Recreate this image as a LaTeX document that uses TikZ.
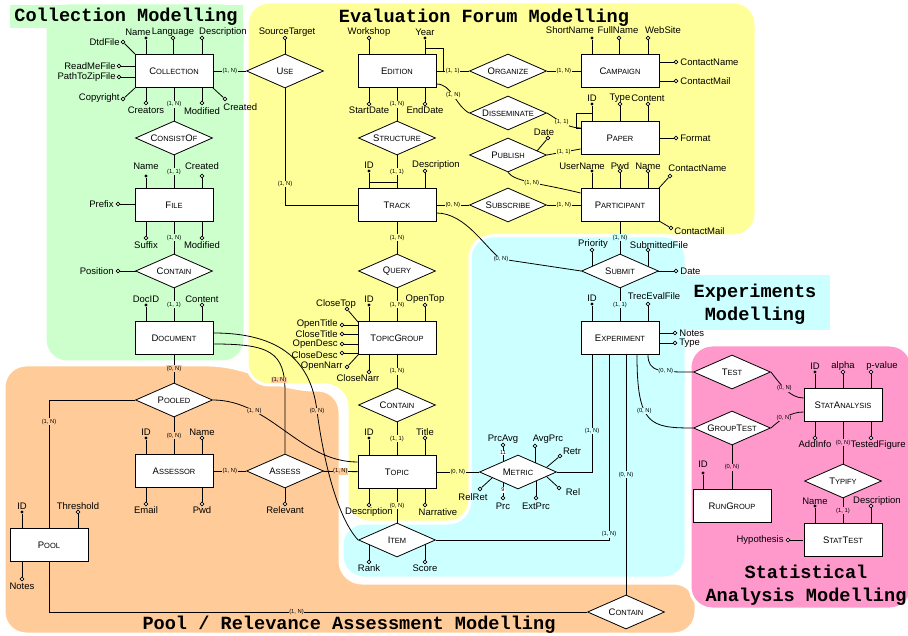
\documentclass[tikz,border=0pt]{standalone}
\usepackage{fontspec}
\setmainfont{Liberation Sans}
\newfontfamily\titlemono{Liberation Mono}
\usetikzlibrary{shapes.geometric}
\definecolor{cgreen}{HTML}{CCFFCC}
\definecolor{cyel}{HTML}{FFFF99}
\definecolor{ccyan}{HTML}{CCFFFF}
\definecolor{corange}{HTML}{FFCC99}
\definecolor{cpink}{HTML}{FF99CC}
\newcommand\smc[2]{#1{\fontsize{7.5}{8}\selectfont#2}}

\begin{document}
\begin{tikzpicture}[x=1pt,y=-1pt,line width=0.8pt,
  ent/.style={draw,fill=white,minimum width=78pt,minimum height=33pt,font=\fontsize{9.5}{10}\selectfont},
  rel/.style={diamond,draw,fill=white,aspect=2.3,inner sep=0pt,minimum width=77pt,minimum height=34pt,font=\fontsize{9.5}{10}\selectfont},
  key/.style={circle,fill=black,inner sep=0pt,minimum size=3.4pt},
  att/.style={circle,draw,fill=white,line width=0.7pt,inner sep=0pt,minimum size=3.6pt},
  lbl/.style={inner sep=0pt,font=\fontsize{9.5}{10}\selectfont},
  card/.style={inner sep=0.6pt,font=\fontsize{5.8}{6}\selectfont},
  cg/.style={card,fill=cgreen}, cy/.style={card,fill=cyel}, cc/.style={card,fill=ccyan},
  co/.style={card,fill=corange}, cp/.style={card,fill=cpink},
  ftitle/.style={font=\titlemono\bfseries\fontsize{18.6}{23}\selectfont,inner sep=0pt,align=center},
  bg/.style={draw=white,line width=3pt,rounded corners=22pt}]
\useasboundingbox (0,0) rectangle (908,636);

% areas
\path[bg,fill=corange] (4,365) -- (232,365) -- (292,390) -- (340,390) -- (340,583) -- (696,583) -- (696,634) -- (4,634) -- cycle;
\path[bg,fill=cyel] (247,2) -- (756,2) -- (756,236) -- (470,236) -- (470,522) -- (347,522) -- (347,385) -- (247,385) -- cycle;
\path[bg,fill=cgreen] (45,3) rectangle (245,362);
\path[bg,fill=ccyan] (470,236) -- (686,236) -- (686,578) -- (342,578) -- (342,523) -- (470,523) -- cycle;
\path[bg,fill=cpink] (690,345) rectangle (912,609);
\fill[cgreen] (10,5) rectangle (243,28);
\fill[ccyan] (683,275) rectangle (830,330);

\node[ftitle] (t-coll) at (126,17) {Collection Modelling};
\node[ftitle] (t-eval) at (484,18) {Evaluation Forum Modelling};
\node[ftitle] (t-exp) at (755,304) {Experiments\\Modelling};
\node[ftitle] (t-stat) at (806,585) {Statistical\\Analysis Modelling};
\node[ftitle] (t-pool) at (349,625) {Pool / Relevance Assessment Modelling};

% entities
\node[ent] (coll) at (174,71) {\smc{C}{OLLECTION}};
\node[ent] (file) at (174,205) {\smc{F}{ILE}};
\node[ent] (doc) at (174,338) {\smc{D}{OCUMENT}};
\node[ent] (assessor) at (174,471) {\smc{A}{SSESSOR}};
\node[ent] (pool) at (49,545) {\smc{P}{OOL}};
\node[ent] (edition) at (397,71) {\smc{E}{DITION}};
\node[ent] (campaign) at (620,71) {\smc{C}{AMPAIGN}};
\node[ent] (paper) at (620,138) {\smc{P}{APER}};
\node[ent] (track) at (397,205) {\smc{T}{RACK}};
\node[ent] (participant) at (620,205) {\smc{P}{ARTICIPANT}};
\node[ent] (tgroup) at (397,338) {\smc{T}{OPIC}\smc{G}{ROUP}};
\node[ent] (topic) at (397,472) {\smc{T}{OPIC}};
\node[ent] (exper) at (620,338) {\smc{E}{XPERIMENT}};
\node[ent] (stat) at (843,405) {\smc{S}{TAT}\smc{A}{NALYSIS}};
\node[ent] (rungroup) at (732,506) {\smc{R}{UN}\smc{G}{ROUP}};
\node[ent] (stattest) at (843,540) {\smc{S}{TAT}\smc{T}{EST}};

% relationships
\node[rel] (use) at (285,71) {\smc{U}{SE}};
\node[rel] (consist) at (174,138) {\smc{C}{ONSIST}\smc{O}{F}};
\node[rel] (containA) at (174,271) {\smc{C}{ONTAIN}};
\node[rel] (pooled) at (174,400) {\smc{P}{OOLED}};
\node[rel] (assess) at (285,471) {\smc{A}{SSESS}};
\node[rel] (organize) at (508,71) {\smc{O}{RGANIZE}};
\node[rel] (dissem) at (508,113) {\smc{D}{ISSEMINATE}};
\node[rel] (publish) at (508,155) {\smc{P}{UBLISH}};
\node[rel] (struct) at (397,138) {\smc{S}{TRUCTURE}};
\node[rel] (subscribe) at (508,205) {\smc{S}{UBSCRIBE}};
\node[rel] (query) at (397,271) {\smc{Q}{UERY}};
\node[rel] (containB) at (397,405) {\smc{C}{ONTAIN}};
\node[rel] (item) at (397,540) {\smc{I}{TEM}};
\node[rel] (metric) at (518,472) {\smc{M}{ETRIC}};
\node[rel] (submit) at (620,271) {\smc{S}{UBMIT}};
\node[rel] (test) at (732,372) {\smc{T}{EST}};
\node[rel] (gtest) at (732,428) {\smc{G}{ROUP}\smc{T}{EST}};
\node[rel] (typify) at (843,481) {\smc{T}{YPIFY}};
\node[rel] (containC) at (626,612) {\smc{C}{ONTAIN}};

% straight connectors
\draw (coll) -- (use) node[cg,midway] {(1, N)};
\draw (coll) -- (consist) node[cg,midway] {(1, N)};
\draw (consist) -- (file) node[cg,midway] {(1, 1)};
\draw (file) -- (containA) node[cg,midway] {(1, N)};
\draw (containA) -- (doc) node[cg,midway] {(1, 1)};
\draw (doc) -- (pooled) node[co,midway] {(0, N)};
\draw (pooled) -- (assessor) node[co,midway] {(0, N)};
\draw (assessor) -- (assess) node[co,midway] {(1, N)};
\draw (assess) -- (topic) node[co,midway] {(1, N)};
\draw (pooled.west) -| (pool.north) node[co,pos=0.585] {(1, N)};
\draw (pool.south) |- (containC.west) node[co,pos=0.73] {(1, N)};
\draw (use.south) |- (track.west) node[cy,pos=0.41] {(1, N)};
\draw (edition) -- (organize) node[cy,midway] {(1, 1)};
\draw (organize) -- (campaign) node[cy,midway] {(1, N)};
\draw (edition) -- (struct) node[cy,midway] {(1, N)};
\draw (struct) -- (track) node[cy,midway] {(1, 1)};
\draw (track) -- (subscribe) node[cy,midway] {(0, N)};
\draw (subscribe) -- (participant) node[cy,midway] {(1, N)};
\draw (track) -- (query) node[cy,midway] {(1, N)};
\draw (query) -- (tgroup) node[cy,midway] {(1, N)};
\draw (tgroup) -- (containB) node[cy,midway] {(1, N)};
\draw (containB) -- (topic) node[cy,midway] {(1, 1)};
\draw (topic) -- (item) node[cy,midway] {(0, N)};
\draw (topic) -- (metric) node[cy,midway] {(0, N)};
\draw (participant) -- (submit) node[cc,midway] {(1, N)};
\draw (submit) -- (exper) node[cc,midway] {(1, 1)};
\draw (metric.east) -| ([xshift=-28pt]exper.south) node[cc,pos=0.675] {(1, N)};
\draw (item.east) -| ([xshift=-11pt]exper.south) node[cc,pos=0.515] {(1, N)};
\draw ([xshift=6pt]exper.south) -- (containC.north) node[cc,midway] {(0, N)};
\draw (gtest) -- (rungroup) node[cp,midway] {(0, N)};
\draw (stat) -- (typify) node[cp,midway] {(0, N)};
\draw (typify) -- (stattest) node[cp,midway] {(1, 1)};
\draw (publish.east) -- ([yshift=-11pt]paper.west) node[cy,midway] {(1, 1)};

% curved connectors
\coordinate (tsb) at (501,259);
\draw ([yshift=-8pt]track.east) .. controls (466,213) and (486,249) .. (tsb) -- (submit.west);
\node[cc] (c-tsb) at (tsb) {(0, N)};
\draw ([yshift=-13pt]edition.east) .. controls (452,84) and (455,105) .. (dissem.west) node[cy,pos=0.5] {(1, N)};
\draw (dissem.east) .. controls (556,118) and (566,128) .. ([yshift=10pt]paper.west) node[cy,pos=0.5] {(1, 1)};
\draw (publish.south) .. controls (515,182) and (540,183) .. ([yshift=12pt]participant.west) node[cy,pos=0.5] {(1, N)};
\draw (pooled.east) .. controls (270,400) and (300,462) .. ([yshift=10pt]topic.west) node[co,pos=0.27] {(1, N)};
\coordinate (dab) at (285,392);
\draw ([yshift=-6pt]doc.east) .. controls (270,344) and (285,352) .. (dab) -- (assess.north);
\node[co] (c-dab) at (279,380) {(1, N)};
\coordinate (dib) at (317,411);
\draw ([yshift=5pt]doc.east) .. controls (290,333) and (312,370) .. (dib) .. controls (322,450) and (335,515) .. (item.west);
\node[co] (c-dib) at (dib) {(0, N)};
\draw ([xshift=17pt]exper.south) .. controls (637,425) and (650,428) .. (gtest.west) node[cc,pos=0.4] {(0, N)};
\draw ([xshift=28pt]exper.south) .. controls (648,372) and (660,372) .. (test.west) node[cc,pos=0.65] {(0, N)};
\draw (test.east) .. controls (781,385) and (790,398) .. ([yshift=7pt]stat.west) node[cp,pos=0.45] {(0, N)};
\draw (gtest.east) .. controls (780,420) and (790,412) .. ([yshift=-7pt]stat.west) node[cp,pos=0.45] {(0, N)};

% identifiers joined to relationships
\draw (369,182) -- (397,182);
\draw (592,113) -| (576,128) -- (581,128);
\draw (425,48) -| (443,71);

% attributes
\foreach \kind/\x/\y/\ex/\ey/\lx/\ly/\anc/\txt in {
  key/146/38/146/54/138/32/center/Name,
  att/173/38/173/54/173/32/center/Language,
  att/202/38/202/54/223/32/center/Description,
  att/123/42/135/54/120/42/east/DtdFile,
  att/119/66/135/66/116/66/east/ReadMeFile,
  att/119/77/135/77/116/77/east/PathToZipFile,
  att/123/99/135/88/120/98/east/Copyright,
  att/146/103/146/88/146/110/center/Creators,
  att/202/103/202/88/202/111/center/Modified,
  att/225/99/213/88/223/107/west/Created,
  key/146/176/146/188/146/166/center/Name,
  att/202/176/202/188/202/166/center/Created,
  att/118/204/135/204/114/204/east/Prefix,
  att/146/238/146/221/146/245/center/Suffix,
  att/202/238/202/221/202/245/center/Modified,
  att/118/271/136/271/114/271/east/Position,
  key/146/305/146/322/146/299/center/DocID,
  att/202/305/202/322/202/299/center/Content,
  key/146/438/146/455/146/432/center/ID,
  att/202/438/202/455/202/432/center/Name,
  att/146/504/146/488/146/510/center/Email,
  att/202/504/202/488/202/510/center/Pwd,
  att/285/504/285/488/285/510/center/Relevant,
  key/22/512/22/529/22/506/center/ID,
  att/78/512/78/529/78/506/center/Threshold,
  att/22/579/22/562/22/586/center/Notes,
  att/285/38/285/54/287/32/center/SourceTarget,
  att/369/38/369/54/369/32/center/Workshop,
  key/425/38/425/54/425/32/center/Year,
  att/369/104/369/88/369/110/center/StartDate,
  att/425/104/425/88/425/110/center/EndDate,
  key/592/38/592/54/570/30/center/ShortName,
  att/619/38/619/54/618/30/center/FullName,
  att/648/38/648/54/663/30/center/WebSite,
  att/676/62/659/62/680/62/west/ContactName,
  att/676/81/659/81/680/81/west/ContactMail,
  key/592/104/592/121/592/98/center/ID,
  att/620/104/620/121/620/98/center/Type,
  att/648/104/648/121/648/98/center/Content,
  att/676/138/659/138/680/138/west/Format,
  att/548/138/537/151/544/132/center/Date,
  key/592/171/592/188/582/166/center/UserName,
  att/620/171/620/188/620/166/center/Pwd,
  att/648/171/648/188/648/166/center/Name,
  att/670/176/659/188/668/168/west/ContactName,
  att/671/228/659/221/674/231/west/ContactMail,
  key/369/171/369/188/369/165/center/ID,
  att/425/171/425/188/436/165/center/Description,
  att/592/250/592/266/593/244/center/Priority,
  att/648/250/648/266/659/245/center/SubmittedFile,
  att/676/271/658/271/680/271/west/Date,
  key/369/305/369/322/369/299/center/ID,
  att/425/305/425/322/425/299/center/OpenTop,
  att/347/309/358/322/336/304/center/CloseTop,
  att/342/325/358/325/338/324/east/OpenTitle,
  att/342/334/358/334/338/334/east/CloseTitle,
  att/342/344/358/344/338/344/east/OpenDesc,
  att/342/353/358/353/338/355/east/CloseDesc,
  att/347/367/358/355/343/366/east/OpenNarr,
  att/369/372/369/355/358/378/center/CloseNarr,
  key/369/438/369/455/369/432/center/ID,
  att/425/438/425/455/425/432/center/Title,
  att/369/505/369/489/369/512/center/Description,
  att/425/505/425/489/438/512/center/Narrative,
  att/369/562/369/545/369/568/center/Rank,
  att/425/562/425/545/425/568/center/Score,
  att/503/445/503/462/503/439/center/PrcAvg,
  att/535/446/535/463/548/439/center/AvgPrc,
  att/560/456/547/467/572/451/center/Retr,
  att/559/488/547/477/573/492/center/Rel,
  att/536/498/536/481/536/506/center/ExtPrc,
  att/503/498/503/482/503/506/center/Prc,
  att/480/489/492/478/473/497/center/RelRet,
  key/592/304/592/322/592/298/center/ID,
  att/648/304/648/322/654/296/center/TrecEvalFile,
  att/675/333/659/333/679/333/west/Notes,
  att/675/343/659/343/679/343/west/Type,
  key/815/372/815/388/815/366/center/ID,
  att/843/372/843/388/843/366/center/alpha,
  att/871/372/871/388/882/366/center/p-value,
  att/815/438/815/422/815/444/center/AddInfo,
  att/871/438/871/422/906/445/east/TestedFigure,
  key/703/473/703/489/703/464/center/ID,
  key/815/506/815/523/815/501/center/Name,
  att/871/506/871/523/877/501/center/Description,
  att/788/540/803/540/784/540/east/Hypothesis}
{
  \node[\kind] (d-\txt) at (\x,\y) {};
  \draw (d-\txt) -- (\ex,\ey);
  \node[lbl,anchor=\anc] (l-\txt) at (\lx,\ly) {\txt};
}
\node[card,fill=white,font=\fontsize{5.5}{6}\selectfont] (n11) at (503,453) {11};
\node[card,fill=white,font=\fontsize{5.5}{6}\selectfont] (n9) at (503,490) {9};
\end{tikzpicture}
\end{document}
